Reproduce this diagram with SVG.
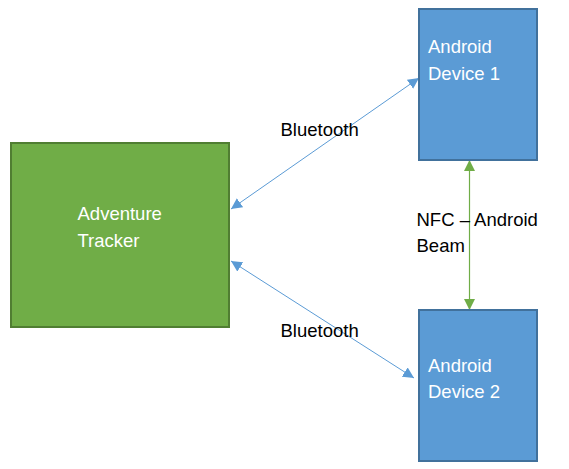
<svg xmlns="http://www.w3.org/2000/svg" width="569" height="469" viewBox="0 0 569 469">
<style>
text{font-family:"Liberation Sans",Arial,sans-serif;font-size:18.5px}
.w{fill:#ffffff}
.k{fill:#000000}
.dev rect{fill:#5b9bd5;stroke:#41719c;stroke-width:2}
.trk rect{fill:#70ad47;stroke:#507e32;stroke-width:2}
.bt{stroke:#5b9bd5;stroke-width:1;fill:none;marker-start:url(#ab);marker-end:url(#ab)}
.nfc{stroke:#70ad47;stroke-width:1.2;fill:none;marker-start:url(#ag);marker-end:url(#ag)}
</style>
<defs>
<marker id="ab" markerUnits="userSpaceOnUse" viewBox="0 0 10 10" refX="10" refY="5" markerWidth="11" markerHeight="11" orient="auto-start-reverse"><path d="M0,0 L10,5 L0,10 z" fill="#5b9bd5"/></marker>
<marker id="ag" markerUnits="userSpaceOnUse" viewBox="0 0 10 10" refX="10" refY="5" markerWidth="11" markerHeight="11" orient="auto-start-reverse"><path d="M0,0 L10,5 L0,10 z" fill="#70ad47"/></marker>
</defs>
<rect width="569" height="469" fill="#ffffff"/>
<g id="connectors">
<line class="bt" x1="231" y1="209" x2="419" y2="78"/>
<line class="bt" x1="231" y1="261" x2="414" y2="378"/>
<line class="nfc" x1="469.5" y1="160" x2="469.5" y2="310"/>
<text class="k" x="280.5" y="136">Bluetooth</text>
<text class="k" x="280.5" y="336.5">Bluetooth</text>
<text class="k" x="416.5" y="226">NFC – Android</text>
<text class="k" x="416.5" y="252">Beam</text>
</g>
<g id="tracker" class="trk">
<rect x="11" y="143" width="218" height="184"/>
<text class="w" x="77.5" y="220">Adventure</text>
<text class="w" x="77.5" y="247">Tracker</text>
</g>
<g id="device1" class="dev">
<rect x="419" y="9" width="118" height="151"/>
<text class="w" x="428" y="53">Android</text>
<text class="w" x="428" y="80">Device 1</text>
</g>
<g id="device2" class="dev">
<rect x="419" y="310" width="118" height="151"/>
<text class="w" x="428" y="372">Android</text>
<text class="w" x="428" y="398">Device 2</text>
</g>
</svg>
